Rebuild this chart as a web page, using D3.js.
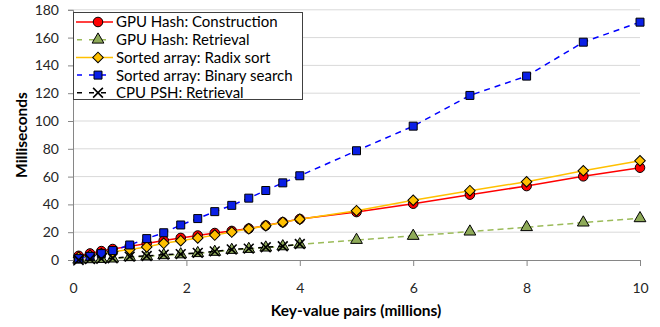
<!DOCTYPE html>
<html>
<head>
<meta charset="utf-8">
<script src="https://cdn.jsdelivr.net/npm/d3@7"></script>
<style>
  html, body { margin: 0; padding: 0; background: #fff; }
  svg { display: block; font-family: Lato, "Open Sans", sans-serif; }
</style>
</head>
<body>
<svg id="chart" width="660" height="327"></svg>
<script>
// Key-value pairs (millions) at which each timing was taken
const pairs = [0.1, 0.3, 0.5, 0.7, 1.0, 1.3, 1.6, 1.9, 2.2, 2.5, 2.8, 3.1, 3.4, 3.7, 4.0, 5, 6, 7, 8, 9, 10];
const pairsCpu = [0.1, 0.3, 0.5, 0.7, 1.0, 1.3, 1.6, 1.9, 2.2, 2.5, 2.8, 3.1, 3.4, 3.7, 4.0];

// Milliseconds per series
const gpuConstruction = [3.0, 4.7, 6.4, 7.9, 9.8, 11.8, 14.0, 15.9, 17.6, 19.4, 20.9, 22.6, 24.8, 27.2, 29.5, 34.5, 40.5, 47.0, 53.2, 60.2, 66.4];
const gpuRetrieval    = [0.2, 0.5, 0.7, 1.0, 2.0, 2.6, 3.4, 4.0, 4.9, 5.8, 7.2, 7.9, 8.9, 9.8, 11.2, 14.4, 17.3, 20.4, 23.6, 26.9, 30.0];
const radixSort       = [2.0, 3.2, 4.6, 5.9, 7.6, 9.4, 12.0, 13.9, 15.9, 17.9, 20.1, 22.4, 24.7, 27.2, 29.4, 35.5, 43.0, 49.9, 56.3, 64.2, 71.4];
const binarySearch    = [1.0, 2.6, 4.6, 6.8, 10.8, 15.4, 19.6, 25.2, 29.8, 34.8, 39.3, 44.5, 50.0, 55.5, 60.6, 78.6, 96.3, 118.4, 132.3, 156.7, 171.1];
const cpuPsh          = [0.0, 0.6, 0.8, 1.3, 2.4, 2.9, 3.9, 4.2, 5.1, 6.2, 7.6, 8.2, 9.2, 9.9, 11.5];

const seriesNames = ["GPU Hash: Construction", "GPU Hash: Retrieval", "Sorted array: Radix sort", "Sorted array: Binary search", "CPU PSH: Retrieval"];
const xTicks = [0, 2, 4, 6, 8, 10];
const yTicks = [0, 20, 40, 60, 80, 100, 120, 140, 160, 180];
const xTitle = "Key-value pairs (millions)";
const yTitle = "Milliseconds";

const svg = d3.select("#chart");
const plotLeft = 73, plotRight = 640, plotTop = 9.8, plotBottom = 260;

const x = d3.scaleLinear().domain([0, 10]).range([plotLeft, plotRight]);
const y = d3.scaleLinear().domain([0, 180]).range([plotBottom, plotTop]);

// horizontal gridlines
svg.append("g").selectAll("line").data(yTicks.filter(d => d > 0)).join("line")
  .attr("x1", plotLeft).attr("x2", plotRight)
  .attr("y1", d => y(d)).attr("y2", d => y(d))
  .attr("stroke", "#d9d9d9").attr("stroke-width", 1);

// axes
const yAxis = svg.append("g").attr("transform", `translate(${plotLeft},0)`)
  .call(d3.axisLeft(y).tickValues(yTicks).tickSize(5).tickPadding(9));
const xAxis = svg.append("g").attr("transform", `translate(0,${plotBottom})`)
  .call(d3.axisBottom(x).tickValues(xTicks).tickSize(6).tickPadding(17));
[xAxis, yAxis].forEach(g => {
  g.select(".domain").attr("stroke", "#868686");
  g.selectAll(".tick line").attr("stroke", "#868686");
  g.selectAll(".tick text").attr("fill", "#262626").style("font-size", "14px").style("font-family", "Lato, sans-serif");
});

// axis titles
svg.append("text").attr("x", 356).attr("y", 316)
  .attr("text-anchor", "middle").attr("font-weight", "bold").attr("font-size", "15.5px")
  .attr("fill", "#000").text(xTitle);
svg.append("text").attr("transform", `translate(27,135) rotate(-90)`)
  .attr("text-anchor", "middle").attr("font-weight", "bold").attr("font-size", "15.5px")
  .attr("fill", "#000").text(yTitle);

// marker shapes
const sym = {
  circle:   d3.symbol().type(d3.symbolCircle).size(72),
  triangle: d3.symbol().type(d3.symbolTriangle).size(60),
  diamond:  d3.symbol().type(d3.symbolSquare).size(56),
  square:   d3.symbol().type(d3.symbolSquare).size(64),
  cross:    d3.symbol().type(d3.symbolX).size(64)
};
const rot = { diamond: 45 };

const series = [
  { name: seriesNames[0], xs: pairs, ys: gpuConstruction, color: "#ff0000", dash: null, width: 1.5, shape: "circle", fill: "#ff0000" },
  { name: seriesNames[1], xs: pairs, ys: gpuRetrieval, color: "#9bbb59", dash: "6,4", width: 1.5, shape: "triangle", fill: "#8eaa58" },
  { name: seriesNames[2], xs: pairs, ys: radixSort, color: "#ffc000", dash: null, width: 1.5, shape: "diamond", fill: "#ffc000" },
  { name: seriesNames[3], xs: pairs, ys: binarySearch, color: "#0000ff", dash: "6,5", width: 1.5, shape: "square", fill: "#0a1fe6" },
  { name: seriesNames[4], xs: pairsCpu, ys: cpuPsh, color: "#000000", dash: "5,5", width: 1.5, shape: "cross", fill: "none" }
];

const line = d3.line().x(d => x(d[0])).y(d => y(d[1]));
const markTransform = (s, px, py) => `translate(${px},${py})` + (rot[s.shape] ? ` rotate(${rot[s.shape]})` : "");

series.forEach(s => {
  const pts = s.xs.map((v, i) => [v, s.ys[i]]);
  const g = svg.append("g");
  g.append("path").datum(pts).attr("d", line)
    .attr("fill", "none").attr("stroke", s.color).attr("stroke-width", s.width)
    .attr("stroke-dasharray", s.dash);
  g.selectAll("path.m").data(pts).join("path").attr("class", "m")
    .attr("transform", d => markTransform(s, x(d[0]), y(d[1])))
    .attr("d", sym[s.shape])
    .attr("fill", s.fill)
    .attr("stroke", "#000")
    .attr("stroke-width", s.shape === "cross" ? 1.6 : 1);
});

// legend
const lg = svg.append("g");
lg.append("rect").attr("x", 73.5).attr("y", 12.5).attr("width", 229).attr("height", 87)
  .attr("fill", "#fff").attr("stroke", "#404040").attr("stroke-width", 1);
series.forEach((s, i) => {
  const cy = 22 + i * 17.7;
  lg.append("line").attr("x1", 76).attr("x2", 113).attr("y1", cy).attr("y2", cy)
    .attr("stroke", s.color).attr("stroke-width", s.width)
    .attr("stroke-dasharray", s.dash ? "5,7" : null)
    .attr("stroke-dashoffset", s.dash ? -1 : null);
  lg.append("path").attr("transform", markTransform(s, 98, cy)).attr("d", sym[s.shape])
    .attr("fill", s.fill).attr("stroke", "#000")
    .attr("stroke-width", s.shape === "cross" ? 1.6 : 1);
  lg.append("text").attr("x", 116).attr("y", cy).attr("dy", "0.36em")
    .attr("font-size", "15px").attr("fill", "#000").text(s.name);
});
</script>
</body>
</html>
